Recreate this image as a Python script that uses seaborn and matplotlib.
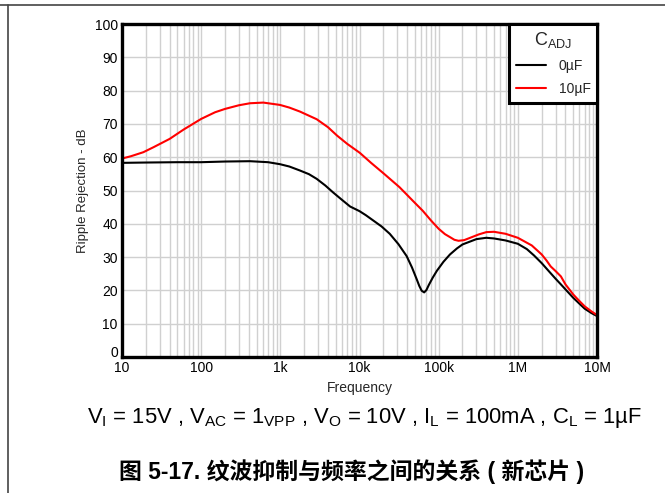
import pandas as pd
import seaborn as sns
import matplotlib.pyplot as plt
import matplotlib.transforms as mtransforms
from matplotlib.lines import Line2D
from matplotlib.ticker import FixedLocator, LogLocator, NullFormatter

# values
freq_0uf = [10, 20, 50, 100, 200, 414, 700, 990, 1300, 1770, 2300, 2880, 3700, 4650,
            6000, 7600, 10000, 12000, 14900, 19000, 24100, 31000, 39400, 46000, 52500,
            57000, 61000, 65600, 70000, 75000, 84000, 95000, 115000, 139000, 170000,
            200000, 300000, 400000, 500000, 700000, 1e6, 1.3e6, 1.6e6, 2e6, 2.5e6, 3e6,
            3.5e6, 4e6, 5e6, 6e6, 7e6, 8.5e6, 1e7]
rr_0uf = [58.3, 58.4, 58.5, 58.5, 58.7, 58.8, 58.5, 57.9, 57.2, 56.0, 54.9, 53.5, 51.5, 49.4,
          47.2, 45.2, 43.8, 42.6, 41.0, 39.2, 37.0, 33.9, 30.3, 26.9, 23.5,
          21.3, 19.9, 19.4, 20.1, 21.6, 23.8, 25.9, 28.6, 30.8, 32.6,
          33.8, 35.4, 35.8, 35.6, 35.0, 34.0, 32.4, 30.5, 28.2, 25.6, 23.5,
          21.8, 20.3, 17.8, 16.0, 14.5, 13.2, 12.3]

freq_10uf = [10, 13, 18.6, 25, 40, 60, 100, 150, 200, 300, 414, 610, 990, 1300, 1770,
             2880, 4000, 5200, 7000, 10100, 14000, 20000, 32000, 50000, 63000, 80000,
             100000, 120000, 139000, 158000, 178000, 210000, 250000, 320000, 400000,
             500000, 700000, 1e6, 1.5e6, 2e6, 2.3e6, 2.6e6, 3e6, 3.5e6, 4e6, 5e6, 6e6,
             7e6, 8.5e6, 1e7]
rr_10uf = [59.6, 60.3, 61.5, 63.0, 65.5, 68.3, 71.5, 73.5, 74.5, 75.6, 76.2, 76.4, 75.7,
           74.9, 73.7, 71.4, 69.0, 66.5, 64.0, 61.3, 58.3, 55.2, 51.0, 46.3, 43.9, 41.0,
           38.5, 36.9, 36.0, 35.2, 34.9, 35.1, 35.8, 36.8, 37.5,
           37.6, 37.0, 35.8, 33.5, 30.8, 29.0, 27.2, 25.8, 24.2, 21.8, 18.8, 16.8,
           15.2, 13.7, 12.6]

series_labels = ["0µF", "10µF"]
x_ticks = [10, 100, 1e3, 1e4, 1e5, 1e6, 1e7]
x_tick_labels = ["10", "100", "1k", "10k", "100k", "1M", "10M"]
y_ticks = list(range(0, 101, 10))

df = pd.concat([
    pd.DataFrame({"freq": freq_0uf, "rr": rr_0uf, "cadj": series_labels[0]}),
    pd.DataFrame({"freq": freq_10uf, "rr": rr_10uf, "cadj": series_labels[1]}),
])

sns.set_theme(style="white")
plt.rcParams["font.family"] = ["Liberation Sans", "Noto Sans CJK SC", "DejaVu Sans"]
plt.rcParams["mathtext.fontset"] = "custom"
plt.rcParams["mathtext.rm"] = "Liberation Sans"
plt.rcParams["mathtext.it"] = "Liberation Sans"

fig = plt.figure(figsize=(6.65, 4.93), dpi=100)
ax = fig.add_axes([122 / 665, 1 - 357 / 493, 475 / 665, 333 / 493])

sns.lineplot(ax=ax, data=df, x="freq", y="rr", hue="cadj",
             palette={"0µF": "black", "10µF": "#ff0000"}, lw=1.5, sort=False)

ax.set_xscale("log")
ax.set_xlim(10, 1e7)
ax.set_ylim(0, 100)
ax.xaxis.set_major_locator(FixedLocator(x_ticks))
ax.set_xticklabels(x_tick_labels)
ax.xaxis.set_minor_locator(LogLocator(base=10, subs=range(2, 10), numticks=20))
ax.xaxis.set_minor_formatter(NullFormatter())
ax.set_yticks(y_ticks)
ax.grid(True, which="both", color="#d0d0d0", lw=1)
ax.set_axisbelow(True)
ax.tick_params(axis="both", which="both", length=0, labelsize=10, pad=3, colors="black")
for s in ax.spines.values():
    s.set_color("black")
    s.set_linewidth(2.4)

# lift the "0" label a little so it clears the "10" below it
ylabels = ax.get_yticklabels()
ylabels[0].set_transform(ylabels[0].get_transform()
                         + mtransforms.ScaledTranslation(0, 4 / 72, fig.dpi_scale_trans))

ax.set_xlabel("Frequency", fontsize=10, labelpad=4)
ax.set_ylabel("Ripple Rejection - dB", fontsize=9.5, labelpad=4)

leg = ax.legend(title=r"C$_{\mathrm{ADJ}}$", loc="upper right", borderaxespad=0,
                fancybox=False, framealpha=1, edgecolor="black", fontsize=10,
                title_fontsize=13, handlelength=2.2, handletextpad=0.9,
                borderpad=0.45, labelspacing=0.65)
leg.get_frame().set_linewidth(2.2)

# page frame lines
fig.add_artist(Line2D([0, 1], [1 - 5 / 493, 1 - 5 / 493], color="#444444", lw=1.2))
fig.add_artist(Line2D([7.5 / 665, 7.5 / 665], [0, 1 - 5 / 493], color="#444444", lw=1.2))

fig.text(364 / 665, 1 - 418 / 493,
         r"V$_{\mathrm{I}}$ = 15V , V$_{\mathrm{AC}}$ = 1$_{\mathrm{VPP}}$ , "
         r"V$_{\mathrm{O}}$ = 10V , I$_{\mathrm{L}}$ = 100mA , C$_{\mathrm{L}}$ = 1µF",
         ha="center", va="center", fontsize=15.8, color="black")
fig.text(352 / 665, 1 - 472 / 493, "图 5-17. 纹波抑制与频率之间的关系 ( 新芯片 )",
         ha="center", va="center", fontsize=16.5, fontweight="bold", color="black")

fig.savefig("out.png", dpi=100)
